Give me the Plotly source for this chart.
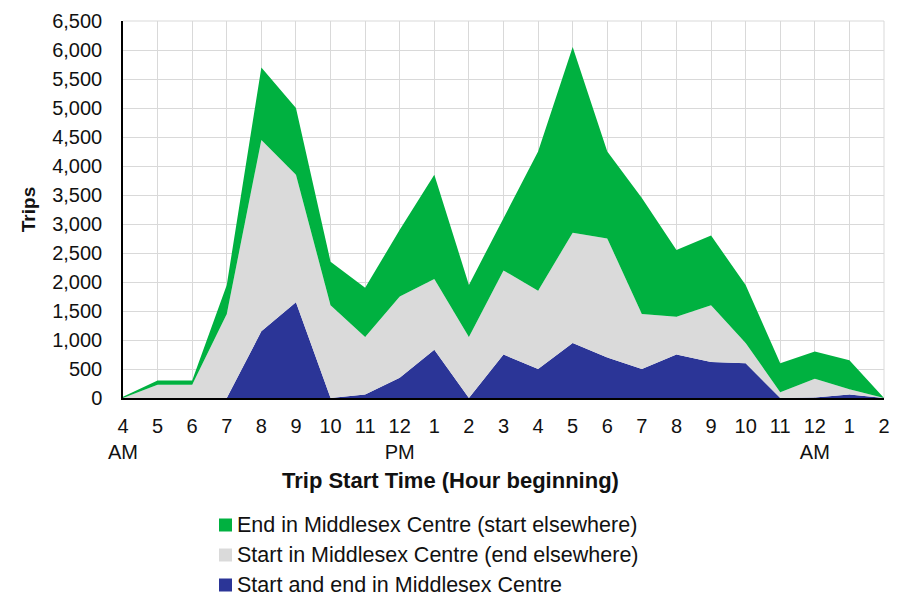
import plotly.graph_objects as go

hours = ["4<br>AM", "5", "6", "7", "8", "9", "10", "11", "12<br>PM", "1", "2", "3", "4",
         "5", "6", "7", "8", "9", "10", "11", "12<br>AM", "1", "2"]

start_and_end = [0, 0, 0, 0, 1150, 1650, 0, 60, 350, 830, 0, 750, 500, 950, 700, 500,
                 750, 620, 600, 0, 10, 60, 0]
start_in = [0, 230, 230, 1450, 3300, 2200, 1600, 990, 1400, 1220, 1050, 1450, 1350, 1900,
            2050, 950, 650, 980, 350, 100, 320, 90, 0]
end_in = [20, 70, 70, 500, 1250, 1150, 750, 850, 1150, 1800, 900, 900, 2400, 3200, 1500,
          2000, 1150, 1200, 1000, 500, 470, 500, 0]

names = ["Start and end in Middlesex Centre",
         "Start in Middlesex Centre (end elsewhere)",
         "End in Middlesex Centre (start elsewhere)"]
colors = ["#2B3597", "#DADADA", "#00B140"]
series = [start_and_end, start_in, end_in]

x = list(range(len(hours)))
fig = go.Figure()
for name, col, vals in zip(names, colors, series):
    fig.add_trace(go.Scatter(x=x, y=vals, name=name, stackgroup="one", mode="none",
                             fillcolor=col, line=dict(width=0), showlegend=False,
                             hoverinfo="y"))

# page has an 8px body margin, so the figure is sized to fit the 899x598 window
W, H = 891, 590
ml, mr, mt, mb = 115, 15, 13, 200
pw, ph = W - ml - mr, H - mt - mb

def px_to_paper(sx, sy):
    # screen pixel -> paper coords
    return (sx - 8 - ml) / pw, (H - mb - (sy - 8)) / ph

annotations = []
shapes = []
tx, ty = px_to_paper(450, 481)
annotations.append(dict(text="<b>Trip Start Time (Hour beginning)</b>", x=tx, y=ty,
                        xref="paper", yref="paper", showarrow=False, xanchor="center",
                        yanchor="middle", font=dict(size=22)))

# manual legend, green on top
legend_rows = [585, 555, 525]
for name, col, row in zip(names, colors, legend_rows):
    sx, sy = px_to_paper(225.5, row)
    shapes.append(dict(type="rect", xref="paper", yref="paper", xsizemode="pixel",
                       ysizemode="pixel", xanchor=sx, yanchor=sy, x0=-6.5, x1=6.5,
                       y0=-6.5, y1=6.5, fillcolor=col, line=dict(width=0)))
    lx, ly = px_to_paper(235, row)
    annotations.append(dict(text=name, x=lx, y=ly, xref="paper", yref="paper",
                            showarrow=False, xanchor="left", yanchor="middle",
                            font=dict(size=21.5)))

# top and right border gridlines
shapes.append(dict(type="line", xref="paper", yref="paper", x0=0, x1=1, y0=1, y1=1,
                   line=dict(color="#D9D9D9", width=1), layer="below"))
shapes.append(dict(type="line", xref="paper", yref="paper", x0=1, x1=1, y0=0, y1=1,
                   line=dict(color="#D9D9D9", width=1), layer="below"))

fig.update_layout(
    width=W, height=H,
    margin=dict(l=ml, r=mr, t=mt, b=mb),
    paper_bgcolor="white", plot_bgcolor="white",
    font=dict(family="Liberation Sans, Arial, sans-serif", size=20, color="#111111"),
    showlegend=False,
    xaxis=dict(range=[0, 22], tickmode="array", tickvals=x, ticktext=hours,
               showgrid=True, gridcolor="#D9D9D9", gridwidth=1, automargin=False,
               showline=True, linecolor="black", linewidth=1.5, zeroline=False,
               ticks="", ticklabelstandoff=9, tickfont=dict(size=20)),
    yaxis=dict(range=[0, 6500], tickmode="linear", tick0=0, dtick=500,
               tickformat=",d", showgrid=True, gridcolor="#D9D9D9", gridwidth=1,
               showline=True, linecolor="black", linewidth=1.5, zeroline=False,
               ticks="", ticklabelstandoff=15, automargin=False, tickfont=dict(size=20),
               title=dict(text="<b>Trips</b>", font=dict(size=19), standoff=12)),
    annotations=annotations,
    shapes=shapes,
)

fig.write_html("out.html")
